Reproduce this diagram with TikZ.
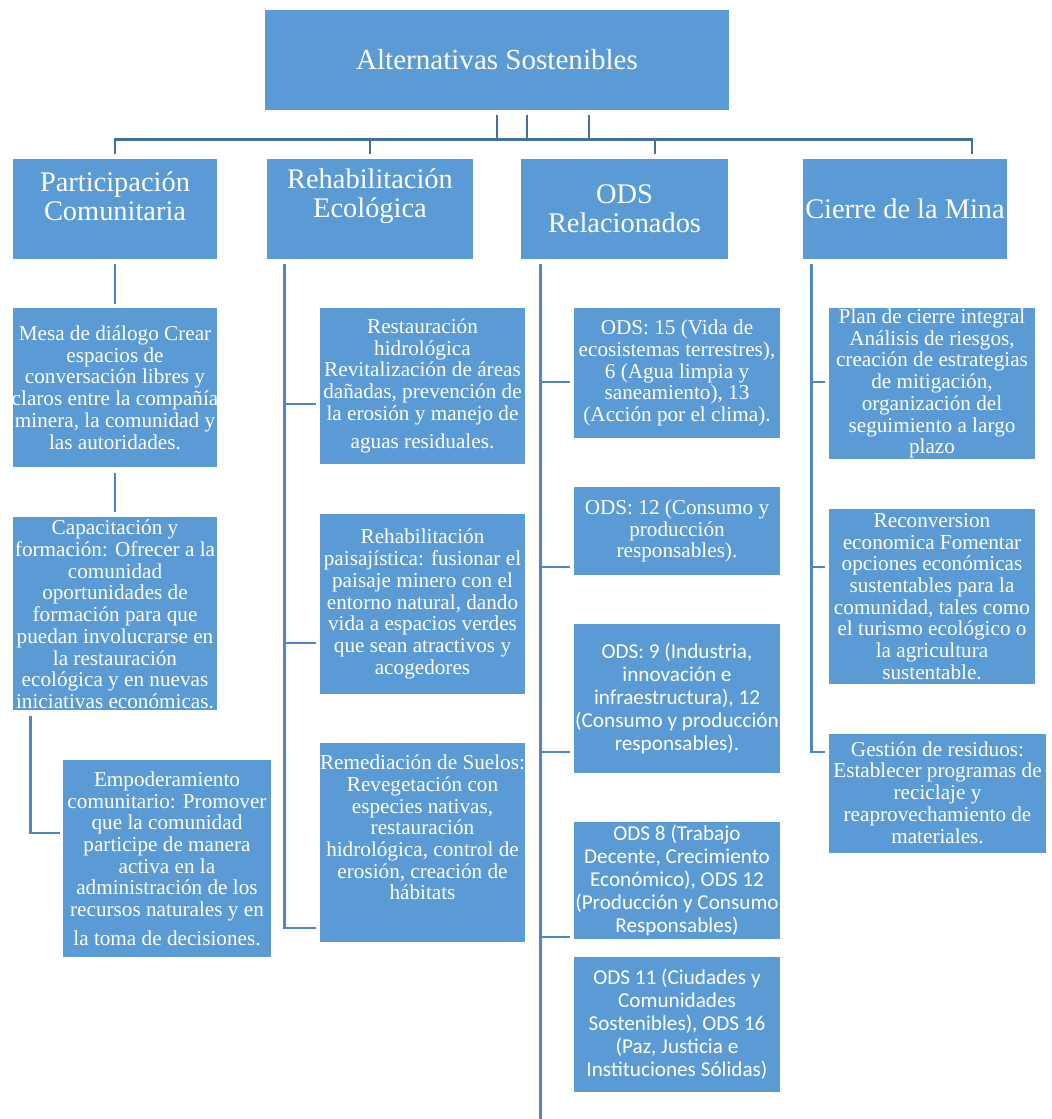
\documentclass[tikz,border=0pt]{standalone}
\usepackage{fontspec}
\setmainfont{Liberation Serif}
\newfontfamily\calibri{Carlito}
\usetikzlibrary{calc,fit}
\definecolor{boxblue}{HTML}{5B9BD5}
\definecolor{linetop}{HTML}{41719C}
\definecolor{linelow}{HTML}{4F87C4}
\newcommand\bodyf{\fontsize{15.9}{16.3}\selectfont}
\newcommand\calf{\calibri\fontsize{15.9}{17.25}\selectfont}
\newcommand\headf{\fontsize{21.3}{21.75}\selectfont}
\newcommand\mybx[8]{%
  \node[box, fit={(#2,#3) (#4,#5)}] (#1) {};
  \node[txt, font={#7}] (#1t) at ([yshift={-(#6)*0.75pt}]#1.center) {#8};
}
\begin{document}
\begin{tikzpicture}[x=0.75pt,y=-0.75pt,
  box/.style={rectangle, fill=boxblue, draw=white, line width=0.8pt, inner sep=0pt},
  txt/.style={align=center, text=white, inner sep=0pt},
  topc/.style={draw=linetop, line width=2.2pt},
  lowc/.style={draw=linelow, line width=1.7pt}]
\useasboundingbox (0,0) rectangle (1051,1119);

% title
\mybx{T}{264}{9}{730}{111}{0}{\fontsize{21.8}{26}\selectfont}{Alternativas Sostenibles}

% level 1
\mybx{P1}{12}{158}{218}{260}{-13}{\headf}{Participación\\Comunitaria}
\mybx{R1}{266}{158}{474}{260}{-13}{\headf}{Rehabilitación\\Ecológica}
\mybx{O1}{520}{158}{729}{260}{0}{\headf}{ODS\\Relacionados}
\mybx{C1}{802}{158}{1008}{260}{0}{\headf}{Cierre de la Mina}

% Participacion column
\mybx{Mesa}{12}{307}{218}{468}{0}{\bodyf}{Mesa de diálogo Crear\\espacios de\\conversación libres y\\claros entre la compañía\\minera, la comunidad y\\las autoridades.}
\mybx{Capac}{12}{516}{218}{711}{1}{\bodyf}{Capacitación y\\formación: Ofrecer a la\\comunidad\\oportunidades de\\formación para que\\puedan involucrarse en\\la restauración\\ecológica y en nuevas\\iniciativas económicas.}
\mybx{Empod}{62}{759}{272}{958}{0}{\bodyf}{Empoderamiento\\comunitario: Promover\\que la comunidad\\participe de manera\\activa en la\\administración de los\\recursos naturales y en\\[5pt]la toma de decisiones.}

% Rehabilitacion column
\mybx{Rest}{319}{307}{526}{465}{0}{\bodyf}{Restauración\\hidrológica\\Revitalización de áreas\\dañadas, prevención de\\la erosión y manejo de\\[5pt]aguas residuales.}
\mybx{Paisaj}{319}{513}{526}{695}{0}{\bodyf}{Rehabilitación\\paisajística: fusionar el\\paisaje minero con el\\entorno natural, dando\\vida a espacios verdes\\que sean atractivos y\\acogedores}
\mybx{Remed}{319}{742}{526}{943}{-15}{\bodyf}{Remediación de Suelos:\\Revegetación con\\especies nativas,\\restauración\\hidrológica, control de\\erosión, creación de\\hábitats}

% ODS column
\mybx{O15}{573}{307}{781}{439}{0}{\bodyf}{ODS: 15 (Vida de\\ecosistemas terrestres),\\6 (Agua limpia y\\saneamiento), 13\\(Acción por el clima).}
\mybx{O12}{573}{486}{781}{576}{0}{\bodyf}{ODS: 12 (Consumo y\\producción\\responsables).}
\mybx{O9}{573}{623}{781}{774}{0}{\calf}{ODS: 9 (Industria,\\innovación e\\infraestructura), 12\\(Consumo y producción\\responsables).}
\mybx{O8}{573}{821}{781}{940}{0}{\calf}{ODS 8 (Trabajo\\Decente, Crecimiento\\Económico), ODS 12\\(Producción y Consumo\\Responsables)}
\mybx{O11}{573}{956}{781}{1093}{0}{\calf}{ODS 11 (Ciudades y\\Comunidades\\Sostenibles), ODS 16\\(Paz, Justicia e\\Instituciones Sólidas)}

% Cierre column
\mybx{Plan}{828}{307}{1036}{460}{0}{\bodyf}{Plan de cierre integral\\Análisis de riesgos,\\creación de estrategias\\de mitigación,\\organización del\\seguimiento a largo\\plazo}
\mybx{Recon}{828}{508}{1036}{685}{0}{\bodyf}{Reconversion\\economica Fomentar\\opciones económicas\\sustentables para la\\comunidad, tales como\\el turismo ecológico o\\la agricultura\\sustentable.}
\mybx{Gest}{828}{733}{1047}{854}{-1}{\bodyf}{Gestión de residuos:\\Establecer programas de\\reciclaje y\\reaprovechamiento de\\materiales.}

% top connectors
\draw[topc] ($(T.south)+(0,3)$) -- ($(T.south)+(0,29)$);
\draw[topc] ($(T.south)+(30,3)$) -- ($(T.south)+(30,29)$);
\draw[topc] ($(T.south)+(92,3)$) -- ($(T.south)+(92,29)$);
\draw[topc] ($(P1.north)+(0,-3)$) |- ($(C1.north)+(67,-18)$) -- ($(C1.north)+(67,-3)$);
\draw[topc] ($(R1.north)+(0,-3)$) -- ($(R1.north)+(0,-18)$);
\draw[topc] ($(O1.north)+(30.5,-3)$) -- ($(O1.north)+(30.5,-18)$);

% Participacion connectors
\draw[lowc] ($(P1.south)+(0,3)$) -- ($(Mesa.north)+(0,-2)$);
\draw[lowc] ($(Mesa.south)+(0,4)$) -- ($(Capac.north)+(0,-3)$);
\draw[lowc] ($(Capac.south west)+(19,4)$) |- ($(Empod.west)+(-1,-25.5)$);

% Rehabilitacion connectors
\coordinate (Rv) at ($(R1.south west)+(19,3)$);
\coordinate (Rb1) at ($(Rest.west)+(-2,18)$);
\coordinate (Rb2) at ($(Paisaj.west)+(-2,39)$);
\coordinate (Rb3) at ($(Remed.west)+(-2,85.5)$);
\draw[lowc] (Rv) |- (Rb3);
\draw[lowc] (Rv |- Rb1) -- (Rb1);
\draw[lowc] (Rv |- Rb2) -- (Rb2);

% ODS connectors
\coordinate (Ov) at ($(O1.south west)+(21,3)$);
\coordinate (Oend) at ($(Ov)+(0,856)$);
\coordinate (Ob1) at ($(O15.west)+(-2,9)$);
\coordinate (Ob2) at ($(O12.west)+(-2,36)$);
\coordinate (Ob3) at ($(O9.west)+(-2,53.5)$);
\coordinate (Ob4) at ($(O8.west)+(-2,56.5)$);
\draw[lowc] (Ov) -- (Oend);
\draw[lowc] (Ov |- Ob1) -- (Ob1);
\draw[lowc] (Ov |- Ob2) -- (Ob2);
\draw[lowc] (Ov |- Ob3) -- (Ob3);
\draw[lowc] (Ov |- Ob4) -- (Ob4);

% Cierre connectors
\coordinate (Cv) at ($(C1.south west)+(10,3)$);
\coordinate (Cb1) at ($(Plan.west)+(-2,-1.5)$);
\coordinate (Cb2) at ($(Recon.west)+(-2,-29.5)$);
\coordinate (Cb3) at ($(Gest.west)+(-2,-41.5)$);
\draw[lowc] (Cv) |- (Cb3);
\draw[lowc] (Cv |- Cb1) -- (Cb1);
\draw[lowc] (Cv |- Cb2) -- (Cb2);
\end{tikzpicture}
\end{document}
